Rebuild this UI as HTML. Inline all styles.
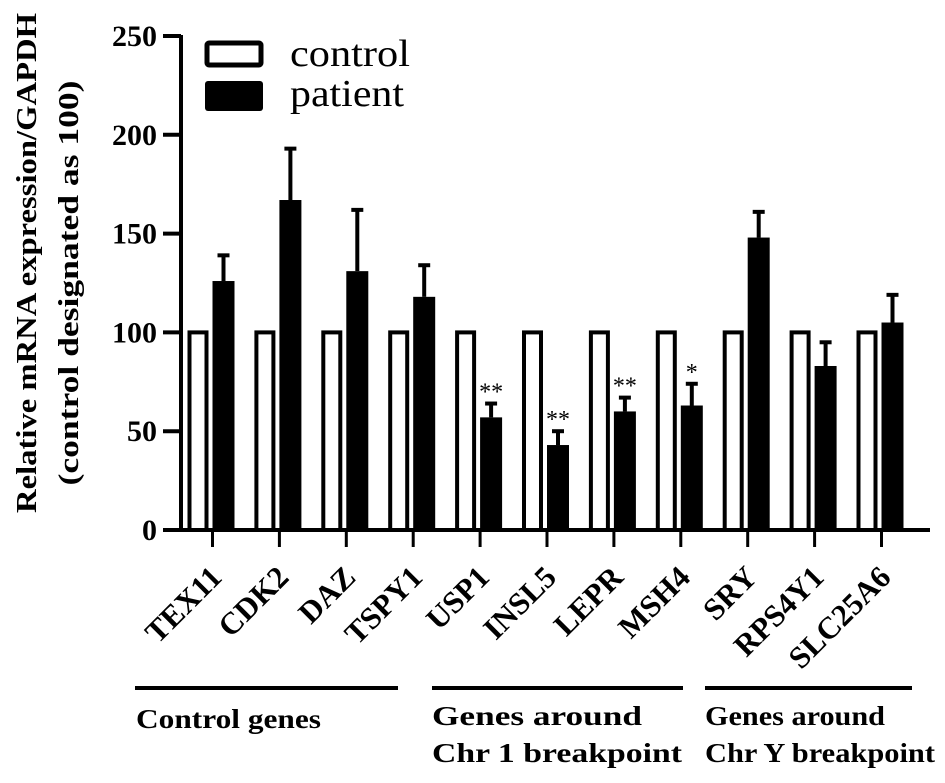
<!DOCTYPE html>
<html><head><meta charset="utf-8"><style>
body{margin:0;background:#fff}
svg{display:block;font-family:"Liberation Serif",serif}
</style></head><body>
<svg id="chart" width="945" height="783" viewBox="0 0 945 783" xmlns="http://www.w3.org/2000/svg"></svg>
<script>
const categories=["TEX11","CDK2","DAZ","TSPY1","USP1","INSL5","LEPR","MSH4","SRY","RPS4Y1","SLC25A6"];
const controlValues=[100,100,100,100,100,100,100,100,100,100,100];
const patientValues=[126,167,131,118,57,43,60,63,148,83,105];
const patientErrors=[13,26,31,16,7,7,7,11,13,12,14];
const significance=["","","","","**","**","**","*","","",""];
const yTicks=[0,50,100,150,200,250];

const NS="http://www.w3.org/2000/svg";
const svg=document.getElementById("chart");
function el(t,a,p){const e=document.createElementNS(NS,t);for(const k in a)e.setAttribute(k,a[k]);(p||svg).appendChild(e);return e;}
const y0=530,y250=36;
function yScale(v){return y0-(v/250)*(y0-y250);}
function xTick(i){return 212.5+i*66.9;}

const ya=el("line",{x1:181,y1:y250-1,x2:181,y2:y0+1.5,stroke:"#000","stroke-width":4});


const xa=el("line",{x1:163,y1:y0,x2:930,y2:y0,stroke:"#000","stroke-width":4});


yTicks.forEach(v=>{
  const t=el("line",{x1:163,y1:yScale(v),x2:181,y2:yScale(v),stroke:"#000","stroke-width":4});
  
  
  const l=el("text",{x:157,y:yScale(v)+10,"text-anchor":"end","font-size":30,"font-weight":"bold"});
  l.textContent=v;
  
  
});
categories.forEach((c,i)=>{
  const xt=xTick(i);
  const tk=el("line",{x1:xt,y1:y0,x2:xt,y2:y0+17,stroke:"#000","stroke-width":3});
  
  
  const cb=el("rect",{x:xt-23,y:yScale(controlValues[i]),width:17,height:y0-yScale(controlValues[i]),fill:"#fff",stroke:"#000","stroke-width":4});
  
  
  const top=yScale(patientValues[i]+patientErrors[i]);
  const eb=el("line",{x1:xt+11,y1:top,x2:xt+11,y2:yScale(patientValues[i]),stroke:"#000","stroke-width":4});
  
  
  const cap=el("line",{x1:xt+5,y1:top,x2:xt+17,y2:top,stroke:"#000","stroke-width":4});
  
  
  const pb=el("rect",{x:xt,y:yScale(patientValues[i]),width:22,height:y0-yScale(patientValues[i]),fill:"#000"});
  
  
  if(significance[i]){
    const s=el("text",{x:xt+11,y:top-4,"text-anchor":"middle","font-size":24});
    s.textContent=significance[i];
    
    
  }
  const lx=xt+11, ly=579;
  const lb=el("text",{x:lx,y:ly,"text-anchor":"end","font-size":31,"font-weight":"bold",transform:`rotate(-45 ${lx} ${ly})`});
  lb.textContent=c;
  
  
});
</script>
<svg style="position:absolute;left:0;top:0" width="945" height="783">
  <text transform="translate(36 263) rotate(-90)" text-anchor="middle" font-size="28" font-weight="bold" font-family="Liberation Serif,serif" textLength="500" lengthAdjust="spacingAndGlyphs">Relative mRNA expression/GAPDH</text>
  <text transform="translate(78 283) rotate(-90)" text-anchor="middle" font-size="28" font-weight="bold" font-family="Liberation Serif,serif" textLength="405" lengthAdjust="spacingAndGlyphs">(control designated as 100)</text>
  <rect x="207" y="43" width="54" height="22" fill="#fff" stroke="#000" stroke-width="5" rx="2"/>
  <rect x="205" y="81" width="58" height="30" fill="#000" rx="3"/>
  <text x="290" y="66" font-size="38" font-family="Liberation Serif,serif" textLength="120" lengthAdjust="spacingAndGlyphs">control</text>
  <text x="290" y="106" font-size="38" font-family="Liberation Serif,serif" textLength="114" lengthAdjust="spacingAndGlyphs">patient</text>
  <line x1="135" y1="688" x2="398" y2="688" stroke="#000" stroke-width="4"/>
  <line x1="432" y1="688" x2="683" y2="688" stroke="#000" stroke-width="4"/>
  <line x1="705" y1="688" x2="912" y2="688" stroke="#000" stroke-width="4"/>
  <g font-family="Liberation Serif,serif" font-weight="bold" font-size="27">
    <text x="136" y="728" textLength="185" lengthAdjust="spacingAndGlyphs">Control genes</text>
    <text x="432" y="725" textLength="210" lengthAdjust="spacingAndGlyphs">Genes around</text>
    <text x="432" y="762" textLength="250" lengthAdjust="spacingAndGlyphs">Chr 1 breakpoint</text>
    <text x="705" y="725" textLength="180" lengthAdjust="spacingAndGlyphs">Genes around</text>
    <text x="705" y="762" textLength="230" lengthAdjust="spacingAndGlyphs">Chr Y breakpoint</text>
  </g>
</svg>
</body></html>
